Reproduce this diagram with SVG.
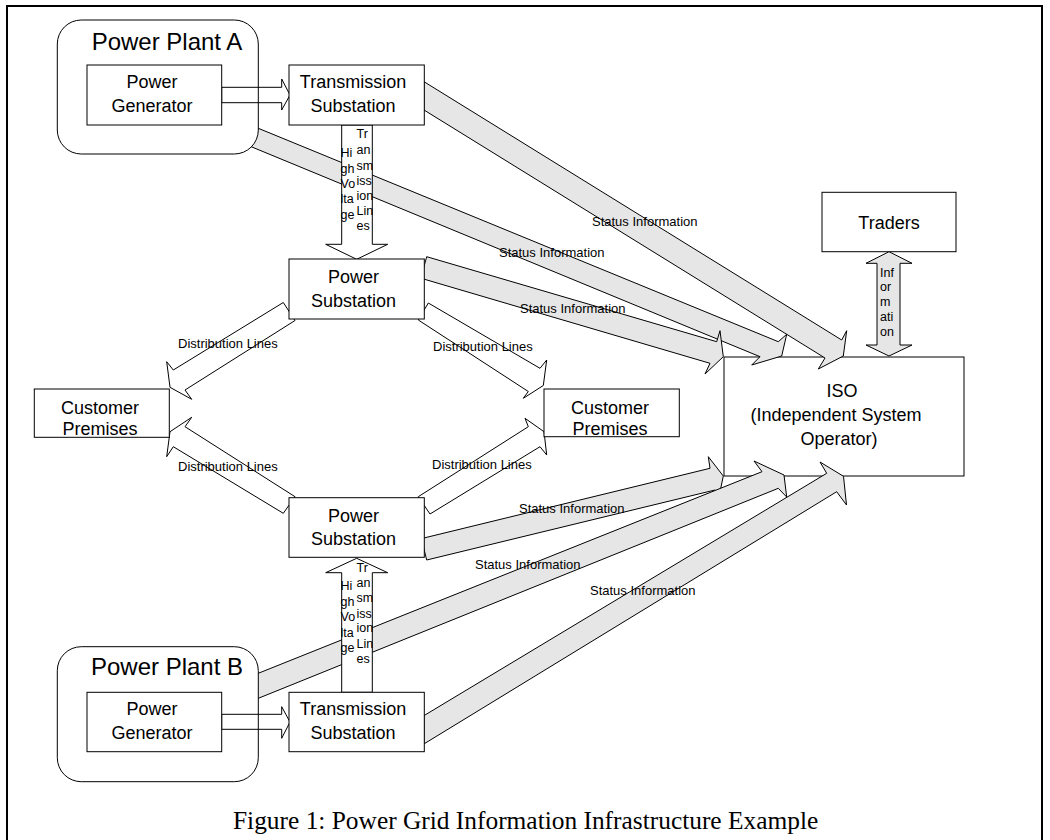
<svg xmlns="http://www.w3.org/2000/svg" width="1050" height="840" viewBox="0 0 1050 840">
<style>
.box{fill:#fff;stroke:#000;stroke-width:1}
.plant{fill:#fff;stroke:#000;stroke-width:1}
.st{fill:#e6e6e6;stroke:#000;stroke-width:1;stroke-linejoin:miter}
.wa{fill:#fff;stroke:#000;stroke-width:1}
.ha{fill:none;stroke:#000;stroke-width:1}
text{font-family:"Liberation Sans",Arial,sans-serif;fill:#000}
.lb{font-size:18px;text-anchor:middle}
.big{font-size:24px;text-anchor:middle}
.sm{font-size:13px}
.col{font-size:12.5px}
.cap{font-family:"Liberation Serif","Times New Roman",serif;font-size:25.4px}
</style>
<rect x="7" y="6" width="1035" height="850" fill="#fff" stroke="#000" stroke-width="2"/>

<g id="iso">
<rect class="box" x="724" y="357" width="240" height="119"/>
<text class="lb" x="842" y="397">ISO</text>
<text class="lb" x="836" y="421">(Independent System</text>
<text class="lb" x="839" y="445">Operator)</text>
</g>
<g id="traders">
<rect class="box" x="822" y="192.3" width="134" height="59.4"/>
<text class="lb" x="889" y="229">Traders</text>
</g>

<g id="connectors">
<polygon class="st" points="424,81.7 841.7,340 846.7,330.7 843.3,356 818.3,369 825,358 424,110"/>
<polygon class="st" points="240,120.8 778.3,341.7 786.7,334.3 781.7,356 751.7,365 760,356.7 240,142.1"/>
<polygon class="st" points="426.7,256.7 716.7,341.7 720,330.7 723.3,356.7 705,374 710,363.3 420.8,278.2"/>
<polygon class="st" points="421.4,538.6 710,468.3 708.3,456.7 723.3,476 718.3,500 715,490 426.7,560"/>
<polygon class="st" points="240,680.6 762,471.7 754,461 784,475 786.7,497 778.3,488.3 240,705.7"/>
<polygon class="st" points="424,715.6 826.7,473.3 820,462 843.5,476.3 846.5,505 836.7,491.7 424,743.9"/>
<polygon class="st" points="889,251.7 912,263.3 900,263.3 900,345 912,345 889,356 866,345 877,345 877,263.3 866,263.3"/>
<polygon class="wa" points="341.7,125 341.7,244.3 325.7,244.3 356.7,259.3 387.7,244.3 372.3,244.3 372.3,125"/>
<polygon class="wa" points="341.7,692.3 341.7,572.7 325.7,572.7 356.7,558.3 387.7,572.7 372.3,572.7 372.3,692.3"/>
<polygon class="wa" points="283.3,302.5 173.3,370 166.7,361.7 170,387.3 191.7,399.3 185,390 295,320.5"/>
<polygon class="wa" points="428.3,303 540,368.3 546.7,360 543.3,385.5 523.3,398.3 528.3,391.5 418.3,320"/>
<polygon class="wa" points="295,496.7 185,426.7 191.7,417.3 170,431.7 166.7,456.7 173.3,446.7 283.3,513.3"/>
<polygon class="wa" points="418.3,496.7 528.3,426.7 525,418.3 544,431.7 546.7,455 540,446.7 430,514"/>
</g>

<g id="plantA">
<rect class="plant" x="57.3" y="20" width="201" height="134" rx="24" ry="24"/>
<text class="big" x="167" y="50">Power Plant A</text>
</g>
<g id="plantB">
<rect class="plant" x="57.3" y="646.7" width="201" height="135" rx="24" ry="24"/>
<text class="big" x="167" y="675">Power Plant B</text>
</g>
<g id="gen-arrows">
<polygon class="ha" points="221.7,87.3 281.7,87.3 281.7,79 290,95 281.7,110 281.7,102.7 221.7,102.7"/>
<polygon class="ha" points="221.7,714.3 281.7,714.3 281.7,706.7 290,722 281.7,738.3 281.7,729.3 221.7,729.3"/>
</g>

<g id="genA">
<rect class="box" x="87" y="65" width="134.7" height="60"/>
<text class="lb" x="152" y="88">Power</text>
<text class="lb" x="152" y="112">Generator</text>
</g>
<g id="transA">
<rect class="box" x="289" y="65" width="135.3" height="60"/>
<text class="lb" x="353" y="88">Transmission</text>
<text class="lb" x="353" y="112">Substation</text>
</g>
<g id="psubA">
<rect class="box" x="289" y="259" width="135.3" height="60"/>
<text class="lb" x="353.5" y="283">Power</text>
<text class="lb" x="353.5" y="307">Substation</text>
</g>
<g id="custL">
<rect class="box" x="34.3" y="389" width="135" height="48.3"/>
<text class="lb" x="100" y="414">Customer</text>
<text class="lb" x="100" y="435">Premises</text>
</g>
<g id="custR">
<rect class="box" x="544" y="389" width="135.3" height="47.7"/>
<text class="lb" x="610" y="414">Customer</text>
<text class="lb" x="610" y="435">Premises</text>
</g>
<g id="psubB">
<rect class="box" x="289" y="497.7" width="135.3" height="59.6"/>
<text class="lb" x="353.5" y="522">Power</text>
<text class="lb" x="353.5" y="545">Substation</text>
</g>
<g id="genB">
<rect class="box" x="87" y="692.3" width="134.7" height="59.4"/>
<text class="lb" x="152" y="715">Power</text>
<text class="lb" x="152" y="738.5">Generator</text>
</g>
<g id="transB">
<rect class="box" x="289" y="692.3" width="135.3" height="59.4"/>
<text class="lb" x="353" y="715">Transmission</text>
<text class="lb" x="353" y="738.5">Substation</text>
</g>

<g id="labels">
<text class="sm" x="592" y="226">Status Information</text>
<text class="sm" x="499" y="257">Status Information</text>
<text class="sm" x="520" y="313">Status Information</text>
<text class="sm" x="519" y="513">Status Information</text>
<text class="sm" x="475" y="569">Status Information</text>
<text class="sm" x="590" y="595">Status Information</text>
<text class="sm" x="178" y="348">Distribution Lines</text>
<text class="sm" x="433" y="351">Distribution Lines</text>
<text class="sm" x="178" y="470.5">Distribution Lines</text>
<text class="sm" x="432" y="468.5">Distribution Lines</text>
<g class="col">
<text x="356.5" y="138.3">Tr</text><text x="356.5" y="154">an</text><text x="356.5" y="170">sm</text><text x="356.5" y="185">iss</text><text x="356.5" y="200">ion</text><text x="356.5" y="215">Lin</text><text x="356.5" y="230">es</text>
<text x="340.5" y="156.7">Hi</text><text x="340.5" y="172.7">gh</text><text x="340.5" y="188.3">Vo</text><text x="340.5" y="203.3">lta</text><text x="340.5" y="219">ge</text>
<text x="356.5" y="571.7">Tr</text><text x="356.5" y="586.7">an</text><text x="356.5" y="602.3">sm</text><text x="356.5" y="617.7">iss</text><text x="356.5" y="632.3">ion</text><text x="356.5" y="647.7">Lin</text><text x="356.5" y="663.3">es</text>
<text x="340.5" y="590">Hi</text><text x="340.5" y="606">gh</text><text x="340.5" y="621">Vo</text><text x="340.5" y="636.7">lta</text><text x="340.5" y="651.7">ge</text>
<text x="880" y="277.3">Inf</text><text x="880" y="291">or</text><text x="880" y="306">m</text><text x="880" y="321">ati</text><text x="880" y="336">on</text>
</g>
</g>
<text class="cap" x="233" y="829">Figure 1: Power Grid Information Infrastructure Example</text>
</svg>
